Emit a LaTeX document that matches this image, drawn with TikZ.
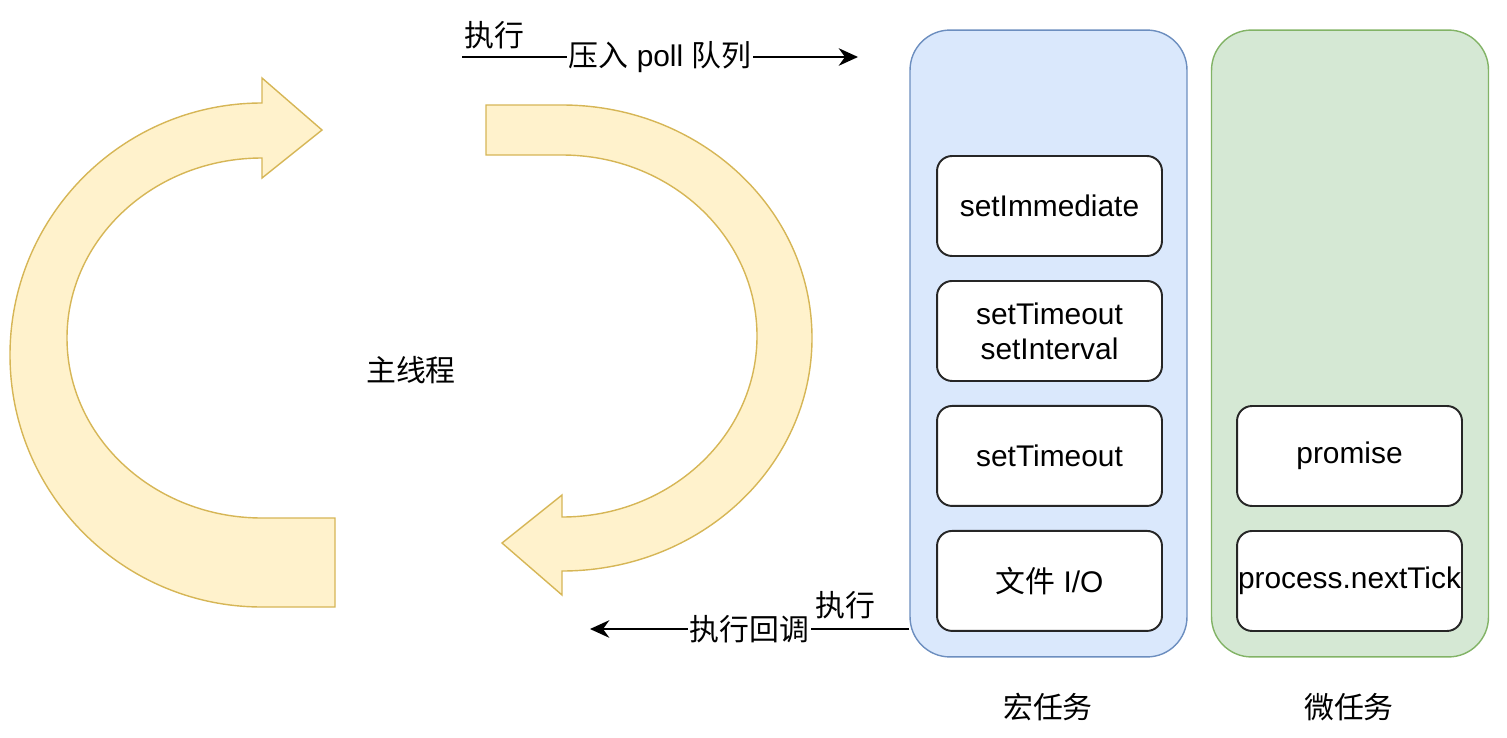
\documentclass[tikz,border=0pt]{standalone}
\usepackage{fontspec}
\setmainfont{Liberation Sans}
\newfontfamily\cjk{Noto Sans CJK SC}
\usepackage{tikz}
\usetikzlibrary{arrows.meta,positioning}
\definecolor{loopfill}{HTML}{FFF2CC}
\definecolor{loopdraw}{HTML}{D6B656}
\definecolor{macrofill}{HTML}{DAE8FC}
\definecolor{macrodraw}{HTML}{6C8EBF}
\definecolor{microfill}{HTML}{D5E8D4}
\definecolor{microdraw}{HTML}{82B366}
\tikzset{
    myloop/.style={fill=loopfill,draw=loopdraw,line width=0.8pt},
    mypane/.style={rounded corners=0.8cm,line width=0.8pt,minimum width=5.54cm,minimum height=12.54cm},
    mytask/.style={draw=black!85,fill=white,rounded corners=0.3cm,line width=1.1pt,inner xsep=0pt,outer sep=0pt,minimum width=4.5cm,minimum height=2cm,align=center},
    myarrow/.style={line width=0.9pt,-{Stealth[length=11pt,width=10pt]}},
    mylabel/.style={fill=white,inner sep=1pt},
    every node/.style={font=\fontsize{17}{20}\selectfont}
}

\begin{document}
\begin{tikzpicture}[x=0.02cm,y=-0.02cm]
  \useasboundingbox (0,0) rectangle (1507,737);
  % the two loop arrows
  \draw[myloop] (262,103) arc[start angle=-90,end angle=-270,radius=252]
    -- (335,607) -- (335,518) -- (262,518)
    arc[start angle=90,end angle=270,x radius=195,y radius=180]
    -- (262,178) -- (322,130) -- (262,78) -- cycle;
  \draw[myloop] (486,105) -- (562,105) arc[start angle=-90,end angle=90,x radius=250,y radius=233]
    -- (562,595) -- (502,543) -- (562,495) -- (562,517)
    arc[start angle=90,end angle=-90,x radius=195,y radius=181]
    -- (486,155) -- cycle;
  \node (main) at (411,370) {\cjk 主线程};
  % task queues
  \node[mypane,fill=macrofill,draw=macrodraw] (macro) at (1048.5,343.5) {};
  \node[mypane,fill=microfill,draw=microdraw] (micro) at (1350,343.5) {};
  \node[mytask] (immediate) at (1049.5,206) {setImmediate};
  \node[mytask,below=0.5cm of immediate] (interval) {setTimeout\\setInterval};
  \node[mytask,below=0.5cm of interval] (timeout) {setTimeout};
  \node[mytask,below=0.5cm of timeout] (fileio) {{\cjk 文件} I/O};
  \node[mytask] (promise) at (1349.5,456) {promise};
  \node[mytask,below=0.5cm of promise] (nexttick) {process.nextTick};
  \node (macrolbl) at (1048,707) {\cjk 宏任务};
  \node (microlbl) at (1349,707) {\cjk 微任务};
  % connectors
  \coordinate (pollfrom) at (462,57);
  \coordinate (pollto) at (858,57);
  \coordinate (cbfrom) at (macro.west |- 0,629);
  \coordinate (cbto) at (590,629);
  \draw[myarrow] (pollfrom) -- node[mylabel] {{\cjk 压入} poll {\cjk 队列}} (pollto);
  \draw[myarrow] (cbfrom) -- node[mylabel] {\cjk 执行回调} (cbto);
  \node (runtop) at (494,35) {\cjk 执行};
  \node (runbot) at (845,605) {\cjk 执行};
\end{tikzpicture}
\end{document}
